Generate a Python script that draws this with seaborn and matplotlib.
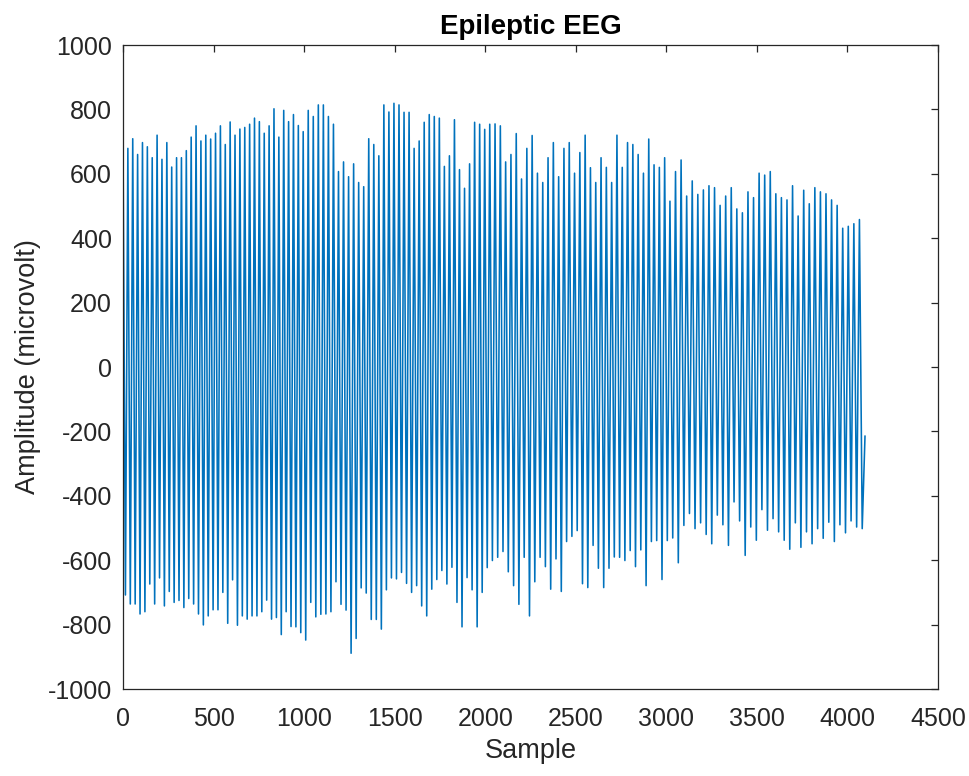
import numpy as np
import pandas as pd
import matplotlib
matplotlib.use('Agg')
import matplotlib.pyplot as plt
import seaborn as sns

# spike peaks (microvolt) read left to right, in four stretches of the record
peaks_a = [719, 679, 709, 660, 697, 684, 650, 720, 645, 697, 621, 650, 650, 672, 714, 749, 702, 720, 708,
           726, 749, 691, 761, 720, 739, 744, 754, 773, 762, 726, 749, 802, 714, 797, 762, 784, 750]
peaks_b = [731, 797, 778, 814, 814, 778, 754, 607, 637, 591, 631, 573, 560, 709, 691, 656, 814, 792, 819,
           814, 791, 791, 679, 702, 760, 784, 778, 773, 623, 656, 768, 613, 555, 631, 760, 754, 738]
peaks_c = [754, 755, 749, 637, 660, 725, 584, 679, 719, 602, 573, 650, 697, 591, 679, 697, 602, 666,
           720, 619, 573, 650, 620, 573, 720, 620, 697, 691, 660, 602, 708, 628, 620, 650]
peaks_d = [515, 607, 643, 531, 578, 536, 550, 563, 557, 502, 531, 557, 491, 479, 544, 526, 602, 596,
           607, 538, 526, 519, 563, 469, 549, 507, 557, 544, 538, 519, 502, 431, 437, 445, 458]

# troughs (microvolt) read the same way
troughs_a = [-708, -736, -736, -767, -760, -674, -736, -655, -742, -697, -731, -725, -747, -719, -736,
             -767, -801, -773, -754, -754, -700, -796, -661, -802, -773, -783, -773, -773, -760, -724,
             -783, -778, -831, -760, -806, -807, -825]
troughs_b = [-848, -731, -776, -768, -767, -760, -667, -737, -755, -889, -843, -686, -702, -784, -784,
             -814, -692, -655, -658, -638, -672, -700, -679, -742, -773, -690, -660, -632, -674, -622,
             -731, -807, -654, -692, -807, -700, -623]
troughs_c = [-601, -591, -573, -636, -679, -737, -591, -773, -667, -591, -620, -690, -596, -697, -542,
             -526, -508, -673, -685, -554, -625, -685, -625, -590, -591, -601, -570, -620, -568, -679,
             -542, -539, -660, -539]
troughs_d = [-531, -608, -492, -455, -502, -484, -520, -549, -460, -490, -554, -419, -478, -585, -497,
             -538, -443, -507, -471, -512, -538, -566, -484, -560, -512, -549, -502, -532, -482, -542,
             -490, -515, -478, -497, -502]
last_value = -214

# sample index where each stretch starts / the record ends
stretch_edges = [0, 995, 2025, 3020, 4097]

stretches = [(peaks_a, troughs_a), (peaks_b, troughs_b), (peaks_c, troughs_c), (peaks_d, troughs_d)]

samples, amp = [], []
for (pk, tr), s0, s1 in zip(stretches, stretch_edges[:-1], stretch_edges[1:]):
    vals = []
    for p, t in zip(pk, tr):
        vals += [p, t]
    samples += list(np.linspace(s0, s1, len(vals), endpoint=False))
    amp += vals
samples.append(stretch_edges[-1])
amp.append(last_value)

df = pd.DataFrame({'sample': samples, 'amp': amp})

sns.set_style('white')
plt.rcParams['font.family'] = ['Liberation Sans', 'DejaVu Sans']
plt.rcParams['axes.unicode_minus'] = False

fig = plt.figure(figsize=(9.7, 7.76), dpi=100)
ax = fig.add_axes([0.1268, 0.1121, 0.8402, 0.8299])

sns.lineplot(data=df, x='sample', y='amp', color='#0072BD', linewidth=1.15, ax=ax)

ax.set_xlim(0, 4500)
ax.set_ylim(-1000, 1000)
ax.set_xticks(range(0, 4501, 500))
ax.set_yticks(range(-1000, 1001, 200))

grey = '#262626'
for s in ax.spines.values():
    s.set_visible(True)
    s.set_color(grey)
    s.set_linewidth(0.9)
ax.tick_params(direction='in', top=True, right=True, length=5, width=0.9,
               color=grey, labelcolor=grey, labelsize=18)
ax.tick_params(axis='x', pad=13)
ax.tick_params(axis='y', pad=8)

ax.set_xlabel('Sample', fontsize=19.5, color=grey, labelpad=5)
ax.set_ylabel('Amplitude (microvolt)', fontsize=19.5, color=grey, labelpad=5)
ax.set_title('Epileptic EEG', fontsize=20, fontweight='bold', color='black', pad=8)

fig.savefig('out.png', dpi=100)
